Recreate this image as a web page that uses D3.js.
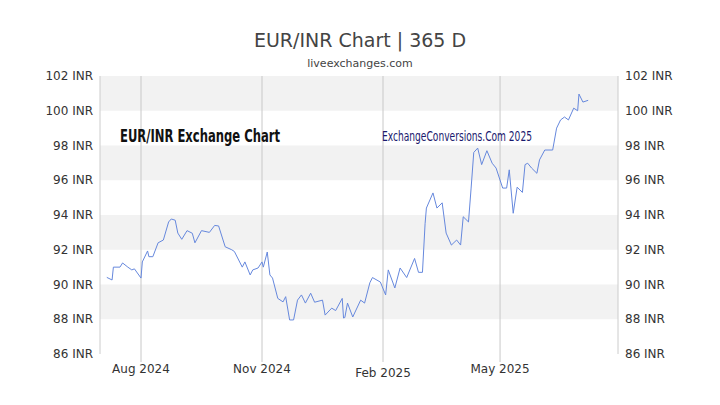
<!DOCTYPE html>
<html><head><meta charset="utf-8">
<script src="https://cdn.jsdelivr.net/npm/d3@7"></script>
<style>body{margin:0;background:#fff}</style></head>
<body><svg id="c" width="720" height="405"></svg>
<script>
const startDate = "2024-08-01";
const dayOffsets = [-26,-22,-21,-16,-14,-10,-7,-5,0,1,5,6,9,13,17,21,23,26,28,31,35,39,41,46,52,56,59,64,69,71,77,79,83,85,89,92,93,96,98,100,104,108,110,113,116,119,122,125,129,132,138,140,145,148,153,154,155,157,161,167,170,174,176,182,186,188,193,197,202,208,211,214,216,217,222,225,229,232,236,240,243,245,249,251,253,256,259,263,267,270,275,278,280,283,286,290,292,294,297,301,303,307,313,316,319,322,325,329,332,333,336,340];
const rates = [90.41,90.26,91.0,91.0,91.24,91.0,90.84,90.9,90.37,91.3,91.93,91.6,91.6,92.4,92.56,93.6,93.77,93.7,92.96,92.6,93.1,92.95,92.4,93.1,93.0,93.4,93.37,92.17,92.0,91.9,91.0,91.3,90.55,90.84,90.95,91.3,91.0,91.87,90.55,90.37,89.2,89.0,89.3,87.96,87.96,89.1,89.4,88.93,89.5,88.98,89.1,88.24,88.64,88.5,89.2,88.07,88.1,88.93,88.13,89.1,88.93,90.1,90.4,90.14,89.4,90.84,89.8,90.95,90.4,91.5,90.7,90.7,93.5,94.4,95.27,94.4,94.7,92.96,92.27,92.56,92.27,93.9,93.6,95.55,97.6,97.85,96.9,97.7,96.98,96.7,95.55,95.55,96.6,94.1,95.6,95.3,96.9,96.98,96.7,96.4,97.17,97.74,97.74,99.0,99.47,99.64,99.47,100.15,100.0,100.96,100.5,100.6];
const yTicks = [86,88,90,92,94,96,98,100,102];
const xTickDates = ["2024-08-01","2024-11-01","2025-02-01","2025-05-01"];
const xTickLabels = ["Aug 2024","Nov 2024","Feb 2025","May 2025"];

const svg = d3.select("#c");
const L=100,R=618,T=76,B=354;
const base = d3.isoParse(startDate);
const data = dayOffsets.map((o,i)=>({d:d3.timeDay.offset(base,o),v:rates[i]}));
const x = d3.scaleTime().domain([d3.isoParse("2024-08-01"),d3.isoParse("2024-11-01")]).range([141,262]);
const y = d3.scaleLinear().domain([86,102]).range([B,T]);

for(let i=0;i<yTicks.length-1;i++){
  const a=yTicks[i];
  if(a===88||a===92||a===96||a===100)
    svg.append("rect").attr("x",L).attr("width",R-L).attr("y",y(a+2)).attr("height",y(a)-y(a+2)).attr("fill","#f2f2f2");
}
xTickDates.forEach((s,i)=>{
  const xx=x(d3.isoParse(s));
  svg.append("line").attr("x1",xx).attr("x2",xx).attr("y1",T).attr("y2",B+8).attr("stroke","#c8c8c8");
  svg.append("text").attr("x",xx).attr("y",i===2?377:373).attr("text-anchor","middle")
   .attr("font-family","DejaVu Sans").attr("font-size",12).attr("fill","#333").text(xTickLabels[i]);
});
svg.append("line").attr("x1",L).attr("x2",L).attr("y1",T).attr("y2",B).attr("stroke","#ccc");
svg.append("line").attr("x1",R).attr("x2",R).attr("y1",T).attr("y2",B).attr("stroke","#ccc");
yTicks.forEach(t=>{
  svg.append("text").attr("x",93).attr("y",y(t)+4).attr("text-anchor","end").attr("font-family","DejaVu Sans").attr("font-size",12).attr("fill","#333").text(t+" INR");
  svg.append("text").attr("x",625).attr("y",y(t)+4).attr("font-family","DejaVu Sans").attr("font-size",12).attr("fill","#333").text(t+" INR");
});
svg.append("path").datum(data).attr("fill","none").attr("stroke","#6688dd").attr("stroke-width",1)
 .attr("d",d3.line().x(d=>x(d.d)).y(d=>y(d.v)));
svg.append("text").attr("x",360).attr("y",47).attr("text-anchor","middle").attr("font-family","DejaVu Sans").attr("font-size",19).attr("fill","#444").text("EUR/INR Chart | 365 D");
svg.append("text").attr("x",360).attr("y",67).attr("text-anchor","middle").attr("font-family","DejaVu Sans").attr("font-size",11).attr("fill","#444").text("liveexchanges.com");
svg.append("text").attr("x",120).attr("y",142).attr("font-family","Liberation Sans Narrow, DejaVu Sans Condensed").attr("font-weight","bold").attr("font-size",18).attr("fill","#111").attr("textLength",160).attr("lengthAdjust","spacingAndGlyphs").text("EUR/INR Exchange Chart");
svg.append("text").attr("x",382).attr("y",141).attr("font-family","Liberation Sans Narrow, DejaVu Sans Condensed").attr("font-size",14).attr("fill","#1a1a6e").attr("textLength",150).attr("lengthAdjust","spacingAndGlyphs").text("ExchangeConversions.Com 2025");
</script></body></html>
